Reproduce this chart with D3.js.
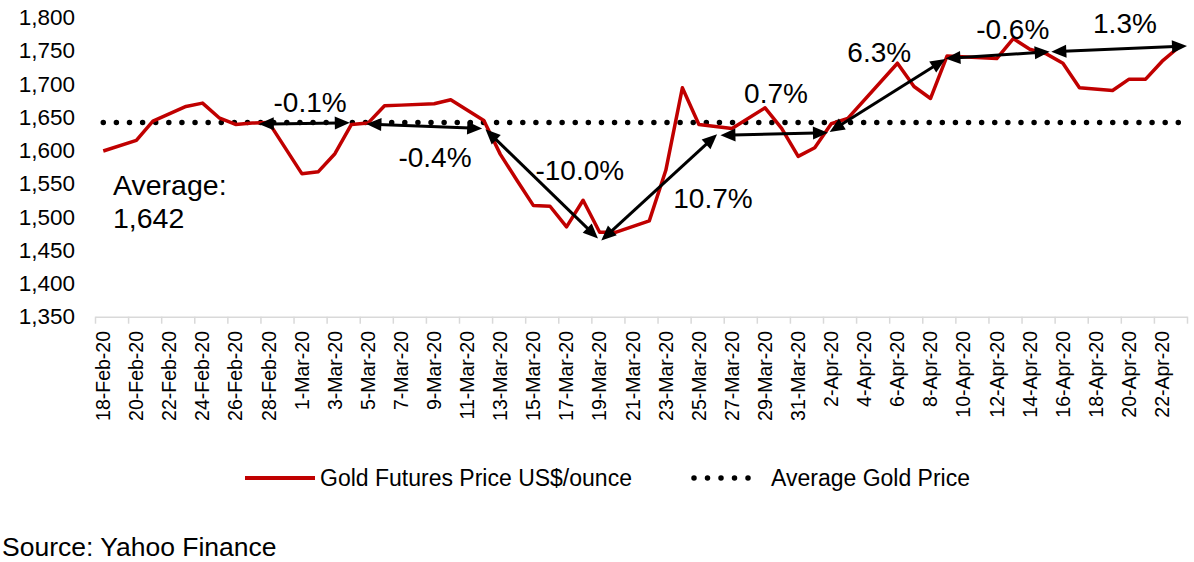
<!DOCTYPE html>
<html>
<head>
<meta charset="utf-8"/>
<title>Gold Futures Price</title>
<script src="https://d3js.org/d3.v7.min.js"></script>
<style>
  body { margin: 0; background: #fff; }
  svg { display: block; font-family: "Liberation Sans", Arial, sans-serif; }
</style>
</head>
<body>
<div id="chart"></div>
<script>
// every calendar day on the category axis
var fmt = d3.timeFormat("%-d-%b-%y");
var days = d3.timeDay.range(new Date(2020, 1, 18), new Date(2020, 3, 24)).map(fmt);

// closes (straight segments over the missing days)
var priceDays = ["18-Feb-20","20-Feb-20","21-Feb-20","23-Feb-20","24-Feb-20","25-Feb-20","26-Feb-20",
  "27-Feb-20","28-Feb-20","1-Mar-20","2-Mar-20","3-Mar-20","4-Mar-20","5-Mar-20","6-Mar-20","7-Mar-20",
  "9-Mar-20","10-Mar-20","12-Mar-20","13-Mar-20","14-Mar-20","15-Mar-20","16-Mar-20","17-Mar-20",
  "18-Mar-20","19-Mar-20","20-Mar-20","22-Mar-20","23-Mar-20","24-Mar-20","25-Mar-20","27-Mar-20",
  "29-Mar-20","30-Mar-20","31-Mar-20","1-Apr-20","2-Apr-20","3-Apr-20","6-Apr-20","7-Apr-20","8-Apr-20",
  "9-Apr-20","12-Apr-20","13-Apr-20","14-Apr-20","15-Apr-20","16-Apr-20","17-Apr-20","19-Apr-20",
  "20-Apr-20","21-Apr-20","22-Apr-20","23-Apr-20"];
var prices = [1599,1615,1644,1666,1671,1649,1639,
  1641,1642,1565,1568,1595,1639,1641,1667,1668,
  1670,1676,1645,1594,1555,1517,1516,1485,
  1525,1477,1477,1494,1570,1694,1639,1633,
  1664,1633,1591,1604,1640,1648,1731,1696,1678,
  1742,1738,1768,1752,1745,1731,1694,1690,
  1707,1707,1734,1755];

var average = 1642;
var yTicks = [1350, 1400, 1450, 1500, 1550, 1600, 1650, 1700, 1750, 1800];

// change arrows, ends given as [day index, price]
var arrowStart = [[9.4,1639.5],[15.9,1639.7],[23.1,1631.7],[30.1,1464.5],[37.3,1622.7],[43.9,1627.7],[50.9,1738.2],[57.3,1748.2]];
var arrowEnd = [[14.9,1641.5],[22.9,1632.8],[29.9,1467.5],[37.1,1624.2],[43.8,1626.5],[50.9,1737.2],[57.2,1748.2],[65.5,1756.8]];
var arrowText = ["-0.1%","-0.4%","-10.0%","10.7%","0.7%","6.3%","-0.6%","1.3%"];
var arrowTextAt = [[12.5,1658],[20.05,1574.5],[28.8,1555],[36.85,1512.7],[40.66,1671],[46.9,1732.7],[54.97,1767.3],[61.75,1776.3]];

var width = 1194, height = 562;

var svg = d3.select("#chart").append("svg")
  .attr("width", width)
  .attr("height", height);

var x = d3.scaleLinear().domain([-0.5, days.length - 0.5]).range([95, 1187]);
var y = d3.scaleLinear().domain([1350, 1800]).range([316.7, 17.3]);

// y axis: labels only
var yAxis = svg.append("g")
  .attr("transform", "translate(95,0)")
  .call(d3.axisLeft(y).tickValues(yTicks).tickFormat(d3.format(",")).tickSize(0).tickPadding(20));
yAxis.select(".domain").remove();
yAxis.selectAll("text")
  .attr("font-size", "22.5px")
  .attr("font-family", "Liberation Sans, Arial, sans-serif")
  .attr("fill", "#000");

// x axis: grey line with a tick every two days
var xAxis = svg.append("g")
  .attr("transform", "translate(0," + y(1350) + ")")
  .call(d3.axisBottom(x).tickValues(d3.range(-0.5, days.length, 2)).tickSize(7).tickSizeOuter(0).tickFormat(""));
xAxis.selectAll("path, line").attr("stroke", "#d9d9d9").attr("stroke-width", 1.5);

svg.append("g").selectAll("text")
  .data(days.map(function(d, i) { return [d, i]; }).filter(function(d) { return d[1] % 2 == 0; }))
  .enter().append("text")
  .attr("transform", function(d) { return "translate(" + x(d[1]) + ",331) rotate(-90)"; })
  .attr("text-anchor", "end")
  .attr("dy", "0.35em")
  .attr("font-size", "19.5px")
  .attr("fill", "#000")
  .text(function(d) { return d[0]; });

// average (dotted)
svg.append("line")
  .attr("x1", x(0)).attr("x2", x(days.length - 1))
  .attr("y1", y(average)).attr("y2", y(average))
  .attr("stroke", "#000")
  .attr("stroke-width", 5.5)
  .attr("stroke-linecap", "round")
  .attr("stroke-dasharray", "0,13.11");

// price line
var line = d3.line()
  .x(function(d, i) { return x(days.indexOf(d)); })
  .y(function(d, i) { return y(prices[i]); });

svg.append("path")
  .datum(priceDays)
  .attr("d", line)
  .attr("fill", "none")
  .attr("stroke", "#c00000")
  .attr("stroke-width", 3.5)
  .attr("stroke-linejoin", "round");

// double headed arrows
var headLen = 15, headHalf = 6.5;
function head(tip, from) {
  var dx = tip[0] - from[0], dy = tip[1] - from[1];
  var len = Math.sqrt(dx * dx + dy * dy);
  var ux = dx / len, uy = dy / len;
  var bx = tip[0] - ux * headLen, by = tip[1] - uy * headLen;
  return "M" + tip[0] + "," + tip[1] +
    "L" + (bx - uy * headHalf) + "," + (by + ux * headHalf) +
    "L" + (bx + uy * headHalf) + "," + (by - ux * headHalf) + "Z";
}

var arrows = svg.append("g");
for (var k = 0; k < arrowStart.length; k++) {
  var a = [x(arrowStart[k][0]), y(arrowStart[k][1])];
  var b = [x(arrowEnd[k][0]), y(arrowEnd[k][1])];
  var dx = b[0] - a[0], dy = b[1] - a[1];
  var len = Math.sqrt(dx * dx + dy * dy);
  var cut = headLen - 3;
  arrows.append("line")
    .attr("x1", a[0] + dx / len * cut).attr("y1", a[1] + dy / len * cut)
    .attr("x2", b[0] - dx / len * cut).attr("y2", b[1] - dy / len * cut)
    .attr("stroke", "#000")
    .attr("stroke-width", 3);
  arrows.append("path").attr("d", head(a, b)).attr("fill", "#000");
  arrows.append("path").attr("d", head(b, a)).attr("fill", "#000");
  arrows.append("text")
    .attr("x", x(arrowTextAt[k][0]))
    .attr("y", y(arrowTextAt[k][1]))
    .attr("text-anchor", "middle")
    .attr("font-size", "28px")
    .attr("fill", "#000")
    .text(arrowText[k]);
}

// average note
var note = svg.append("text")
  .attr("x", 113)
  .attr("y", 195)
  .attr("font-size", "28.5px")
  .attr("fill", "#000");
note.append("tspan").attr("x", 113).text("Average:");
note.append("tspan").attr("x", 113).attr("dy", 33).text(d3.format(",")(average));

// legend
var legend = svg.append("g").attr("transform", "translate(0,478)");
legend.append("line")
  .attr("x1", 245).attr("x2", 315)
  .attr("stroke", "#c00000").attr("stroke-width", 4);
legend.append("text")
  .attr("x", 320).attr("dy", "0.35em")
  .attr("font-size", "23px").attr("fill", "#000")
  .text("Gold Futures Price US$/ounce");
legend.append("line")
  .attr("x1", 694).attr("x2", 750)
  .attr("stroke", "#000").attr("stroke-width", 5.5)
  .attr("stroke-linecap", "round")
  .attr("stroke-dasharray", "0,13.5");
legend.append("text")
  .attr("x", 771).attr("dy", "0.35em")
  .attr("font-size", "23px").attr("fill", "#000")
  .text("Average Gold Price");

svg.append("text")
  .attr("x", 2)
  .attr("y", 556)
  .attr("font-size", "26.5px")
  .attr("fill", "#000")
  .text("Source: Yahoo Finance");
</script>
</body>
</html>
